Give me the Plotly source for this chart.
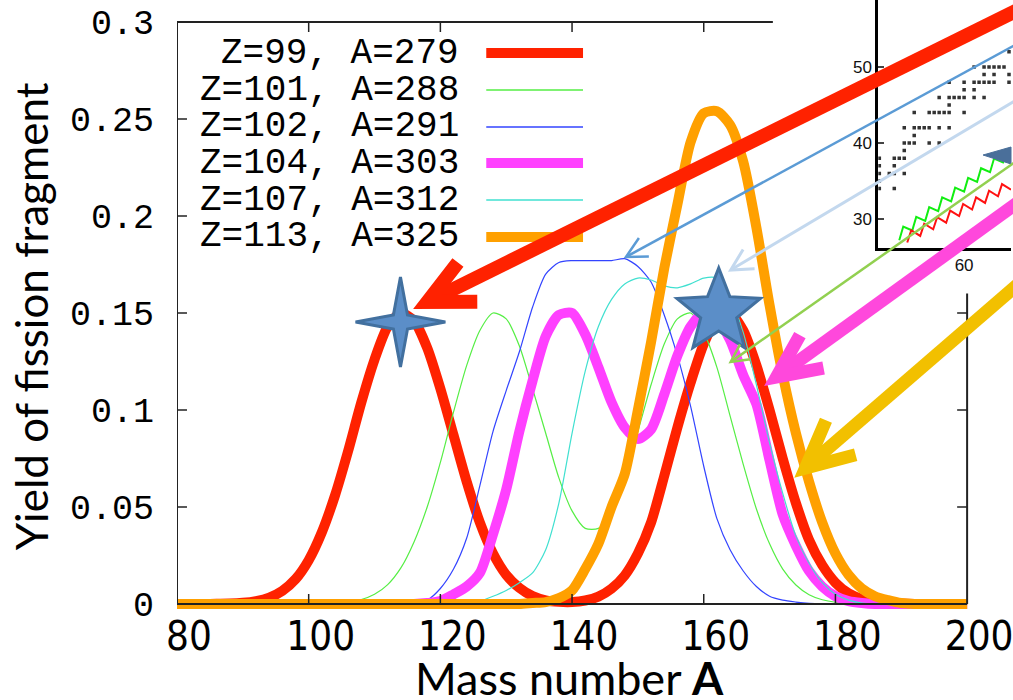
import math
import plotly.graph_objects as go

# ---------------- data ----------------
mass = list(range(80, 201, 2))  # mass number A of the fragment

series_names = ["Z=99, A=279", "Z=101, A=288", "Z=102, A=291",
                "Z=104, A=303", "Z=107, A=312", "Z=113, A=325"]

yield_z99 = [0, 0, 0, 0.0001, 0.0002, 0.0006, 0.0015, 0.0033, 0.0068, 0.0128,
             0.0226, 0.037, 0.056, 0.079, 0.104, 0.126, 0.143, 0.150, 0.146, 0.132,
             0.111, 0.087, 0.063, 0.042, 0.026, 0.015, 0.0083, 0.0041, 0.0019, 0.0011,
             0.001, 0.0018, 0.0038, 0.0079, 0.0147, 0.026, 0.042, 0.066, 0.091, 0.114,
             0.134, 0.147, 0.150, 0.141, 0.123, 0.100, 0.075, 0.052, 0.033, 0.020,
             0.011, 0.0055, 0.0026, 0.0011, 0.0005, 0.0002, 0, 0, 0, 0, 0]

yield_z101 = [0, 0, 0, 0, 0, 0, 0, 0, 0, 0,
              0, 0.0002, 0.0005, 0.001, 0.0023, 0.005, 0.010, 0.0186, 0.032, 0.050,
              0.073, 0.099, 0.123, 0.141, 0.150, 0.147, 0.133, 0.111, 0.088, 0.065,
              0.048, 0.039, 0.039, 0.048, 0.066, 0.089, 0.113, 0.134, 0.147, 0.150,
              0.140, 0.122, 0.097, 0.072, 0.049, 0.031, 0.018, 0.0098, 0.0048, 0.0022,
              0.0009, 0.0004, 0, 0, 0, 0, 0, 0, 0, 0, 0]

yield_z102 = [0, 0, 0, 0, 0, 0, 0, 0, 0, 0,
              0, 0, 0, 0, 0, 0, 0, 0, 0.0005, 0.002,
              0.008, 0.018, 0.034, 0.061, 0.089, 0.110, 0.130, 0.153, 0.170, 0.176,
              0.177, 0.177, 0.177, 0.177, 0.178, 0.174, 0.166, 0.149, 0.128, 0.102,
              0.071, 0.044, 0.028, 0.017, 0.009, 0.004, 0.002, 0.001, 0.0003, 0,
              0, 0, 0, 0, 0, 0, 0, 0, 0, 0, 0]

yield_z104 = [0, 0, 0, 0, 0, 0, 0, 0, 0, 0,
              0, 0, 0, 0, 0, 0, 0, 0, 0, 0.0005,
              0.0015, 0.005, 0.009, 0.016, 0.036, 0.059, 0.089, 0.115, 0.138, 0.149,
              0.150, 0.139, 0.122, 0.104, 0.091, 0.085, 0.090, 0.108, 0.128, 0.143,
              0.150, 0.147, 0.136, 0.118, 0.103, 0.074, 0.046, 0.030, 0.017, 0.009,
              0.004, 0.0015, 0.0005, 0, 0, 0, 0, 0, 0, 0, 0]

yield_z107 = [0, 0, 0, 0, 0, 0, 0, 0, 0, 0,
              0, 0, 0, 0, 0, 0, 0, 0, 0, 0,
              0, 0, 0.0005, 0.0015, 0.004, 0.007, 0.011, 0.016, 0.028, 0.052,
              0.088, 0.120, 0.143, 0.157, 0.165, 0.168, 0.167, 0.164, 0.163, 0.165,
              0.168, 0.168, 0.158, 0.140, 0.113, 0.083, 0.057, 0.035, 0.021, 0.011,
              0.005, 0.002, 0.0005, 0, 0, 0, 0, 0, 0, 0, 0]

yield_z113 = [0, 0, 0, 0, 0, 0, 0, 0, 0, 0,
              0, 0, 0, 0, 0, 0, 0, 0, 0, 0,
              0, 0, 0, 0, 0, 0, 0, 0.0005, 0.001, 0.003,
              0.007, 0.018, 0.031, 0.050, 0.067, 0.100, 0.135, 0.173, 0.206, 0.238,
              0.253, 0.254, 0.247, 0.228, 0.194, 0.154, 0.118, 0.088, 0.063, 0.042,
              0.026, 0.015, 0.008, 0.004, 0.002, 0.0005, 0, 0, 0, 0, 0]

series_values = [yield_z99, yield_z101, yield_z102, yield_z104, yield_z107, yield_z113]

x_ticks = [80, 100, 120, 140, 160, 180, 200]
y_ticks = [0, 0.05, 0.1, 0.15, 0.2, 0.25, 0.3]
y_tick_text = ["0", "0.05", "0.1", "0.15", "0.2", "0.25", "0.3"]

# inset: nuclide chart (neutron number N, proton number Z)
inset_n = [69, 62, 64, 65, 66, 67, 68, 64, 66, 69, 57, 60, 62, 63, 64, 65, 66, 69,
           60, 62, 55, 57, 58, 59, 60, 62, 64, 57, 50, 53, 54, 55, 56, 57, 60,
           48, 50, 51, 52, 53, 55, 57, 50, 48, 49, 50, 53, 55, 48, 43, 46, 47, 48,
           43, 46, 43, 45, 46, 48, 43, 43, 46]
inset_z = [52, 50, 50, 50, 50, 50, 50, 49, 49, 49, 48, 48, 48, 48, 48, 48, 48, 48,
           47, 47, 46, 46, 46, 46, 46, 46, 46, 45, 44, 44, 44, 44, 44, 44, 44,
           42, 42, 42, 42, 42, 42, 42, 41, 40, 40, 40, 40, 40, 39, 38, 38, 38, 38,
           37, 37, 36, 36, 36, 36, 35, 34, 34]
path_green_n = [47.0, 47.8, 49.6, 50.4, 52.2, 53.0, 54.8, 55.6, 57.4, 58.2, 60.0,
                60.8, 62.6, 63.4, 65.2, 66.0, 67.8, 68.6]
path_green_z = [27.2, 29.0, 28.48, 30.28, 29.76, 31.56, 31.04, 32.84, 32.32, 34.12,
                33.6, 35.4, 34.88, 36.68, 36.16, 37.96, 37.44, 39.24]
path_red_n = [48.6, 49.4, 51.2, 52.0, 53.8, 54.6, 56.4, 57.2, 59.0, 59.8, 61.6,
              62.4, 64.2, 65.0, 66.8, 67.6, 69.4]
path_red_z = [26.9, 28.5, 27.77, 29.37, 28.64, 30.24, 29.51, 31.11, 30.38, 31.98,
              31.25, 32.85, 32.12, 33.72, 32.99, 34.59, 33.86]

# ---------------- styling ----------------
colors = ["#ff2200", "#55ee44", "#3344ff", "#ff40ff", "#40e0d0", "#ffa000"]
widths = [10, 1.2, 1.2, 10, 1.2, 10]

W, H = 1013, 700
L, B = 177, 91
PW, PH = W - L, H - B          # plot area 836 x 609 (top margin 0, right 0)
X_PER_A = 6.6                  # pixels per mass unit
Y_PER_UNIT = 1940.0            # pixels per yield unit
Y0_PIX = 604                   # pixel row of zero yield


def pxx(x):
    return (x - L) / PW


def pxy(y):
    return (PH - y) / PH


x_range = [80, 80 + PW / X_PER_A]
y_range = [-(PH - Y0_PIX) / Y_PER_UNIT, Y0_PIX / Y_PER_UNIT]

fig = go.Figure()

for name, vals, c, w in zip(series_names, series_values, colors, widths):
    fig.add_trace(go.Scatter(
        x=mass, y=vals, mode="lines", name=name,
        line=dict(color=c, width=w, shape="spline", smoothing=0.7),
        showlegend=False, hoverinfo="skip"))

# inset traces
fig.add_trace(go.Scatter(x=inset_n, y=inset_z, xaxis="x2", yaxis="y2", mode="markers",
                         marker=dict(symbol="square", size=3.5, color="#333333"),
                         showlegend=False, hoverinfo="skip"))
fig.add_trace(go.Scatter(x=path_green_n, y=path_green_z, xaxis="x2", yaxis="y2",
                         mode="lines", line=dict(color="#11ee11", width=2),
                         showlegend=False, hoverinfo="skip"))
fig.add_trace(go.Scatter(x=path_red_n, y=path_red_z, xaxis="x2", yaxis="y2",
                         mode="lines", line=dict(color="#ff1111", width=2),
                         showlegend=False, hoverinfo="skip"))

shapes = []
frame = dict(color="#222222", width=2)
# frame of the main plot (top and right partly hidden by the inset box)
shapes.append(dict(type="line", xref="x", yref="y", x0=80, x1=80, y0=0, y1=0.3, line=frame))
shapes.append(dict(type="line", xref="x", yref="y", x0=80, x1=200, y0=0, y1=0, line=frame))
shapes.append(dict(type="line", xref="x", yref="y", x0=80, x1=170.5, y0=0.3, y1=0.3, line=frame))
shapes.append(dict(type="line", xref="x", yref="y", x0=200, x1=200, y0=0, y1=0.160, line=frame))
tick_line = dict(color="#222222", width=1.5)
tx = 10 / X_PER_A
ty = 10 / Y_PER_UNIT
for v in x_ticks[1:-1]:
    shapes.append(dict(type="line", xref="x", yref="y", x0=v, x1=v, y0=0, y1=ty, line=tick_line))
    if v <= 160:
        shapes.append(dict(type="line", xref="x", yref="y", x0=v, x1=v, y0=0.3, y1=0.3 - ty, line=tick_line))
for v in y_ticks[1:-1]:
    shapes.append(dict(type="line", xref="x", yref="y", x0=80, x1=80 + tx, y0=v, y1=v, line=tick_line))
    if v <= 0.15:
        shapes.append(dict(type="line", xref="x", yref="y", x0=200, x1=200 - tx, y0=v, y1=v, line=tick_line))

# legend samples (text right-aligned, line sample to the right)
annotations = []
row_y = [53, 90, 127, 163, 200, 237]
for name, c, w, ry in zip(series_names, colors, widths, row_y):
    annotations.append(dict(xref="paper", yref="paper", x=pxx(462), y=pxy(ry),
                            text=name, showarrow=False, xanchor="right", yanchor="middle",
                            font=dict(family="Liberation Mono, monospace", size=36, color="#000")))
    shapes.append(dict(type="line", xref="paper", yref="paper", x0=pxx(487), x1=pxx(584),
                       y0=pxy(ry), y1=pxy(ry), line=dict(color=c, width=w if w > 2 else 1.3)))


def poly_path(pts):
    s = "M " + " L ".join(f"{pxx(a):.5f},{pxy(b):.5f}" for a, b in pts)
    return s + " Z"


def star(cx, cy, n, r_out, r_in):
    pts = []
    for k in range(2 * n):
        ang = math.pi / 2 + k * math.pi / n
        r = r_out if k % 2 == 0 else r_in
        pts.append((cx + r * math.cos(ang), cy - r * math.sin(ang)))
    return poly_path(pts)


star_fill, star_edge = "#5b8ec8", "#42709f"
shapes.append(dict(type="path", xref="paper", yref="paper", path=star(401, 322, 4, 45, 10),
                   fillcolor=star_fill, line=dict(color=star_edge, width=3)))
shapes.append(dict(type="path", xref="paper", yref="paper", path=star(720, 312, 5, 44, 19),
                   fillcolor=star_fill, line=dict(color=star_edge, width=3)))
# arrowhead tip near the right edge of the inset
shapes.append(dict(type="path", xref="paper", yref="paper",
                   path=poly_path([(985, 155), (1013, 147), (1013, 164)]),
                   fillcolor="#4a6f9a", line=dict(color="#4a6f9a", width=1)))


def arrow(tip, tail, color, width, head, spread=26):
    tx_, ty_ = tip
    sx, sy = tail
    d = math.hypot(sx - tx_, sy - ty_)
    ux, uy = (sx - tx_) / d, (sy - ty_) / d
    back = width * 0.45
    out = [dict(type="line", xref="paper", yref="paper",
                x0=pxx(tx_ + ux * back), y0=pxy(ty_ + uy * back), x1=pxx(sx), y1=pxy(sy),
                line=dict(color=color, width=width))]
    arms = []
    for sgn in (1, -1):
        a = math.radians(spread) * sgn
        vx = ux * math.cos(a) - uy * math.sin(a)
        vy = ux * math.sin(a) + uy * math.cos(a)
        arms.append((tx_ + vx * head, ty_ + vy * head))
    p = (f"M {pxx(arms[0][0]):.5f},{pxy(arms[0][1]):.5f} L {pxx(tx_):.5f},{pxy(ty_):.5f} "
         f"L {pxx(arms[1][0]):.5f},{pxy(arms[1][1]):.5f}")
    out.append(dict(type="path", xref="paper", yref="paper", path=p,
                    line=dict(color=color, width=width)))
    return out


shapes += arrow((732, 270), (1030, 93), "#c3d8ee", 3, 24, 28)
shapes += arrow((627, 257), (1030, 38), "#5b9bd5", 2.5, 23, 27)
shapes += arrow((732, 362), (1030, 153), "#92d050", 2.5, 20, 27)
shapes += arrow((428, 302), (1040, 0), "#ff2200", 14, 50, 26)
shapes += arrow((778, 377), (1040, 188), "#ff48dc", 13, 48, 25)
shapes += arrow((807, 468), (1040, 267), "#f2c000", 13, 52, 26)

annotations.append(dict(xref="paper", yref="paper", x=pxx(570), y=pxy(678),
                        text="Mass number <b>A</b>", showarrow=False,
                        xanchor="center", yanchor="middle",
                        font=dict(family="Lato, sans-serif", size=45, color="#000")))
annotations.append(dict(xref="paper", yref="paper", x=pxx(31), y=pxy(316),
                        text="Yield of fission fragment", showarrow=False, textangle=-90,
                        xanchor="center", yanchor="middle",
                        font=dict(family="Lato, sans-serif", size=44, color="#000")))

fig.update_layout(
    width=W, height=H,
    margin=dict(l=L, r=0, t=0, b=B, pad=0),
    paper_bgcolor="white", plot_bgcolor="white",
    showlegend=False,
    xaxis=dict(range=x_range, tickvals=x_ticks, ticks="", showline=False, showgrid=False,
               zeroline=False, ticklabelshift=12, ticklabelstandoff=0,
               ticklabeloverflow="allow",
               tickfont=dict(family="Liberation Sans Narrow, DejaVu Sans Condensed, sans-serif",
                             size=40, color="#000")),
    yaxis=dict(range=y_range, tickvals=y_ticks, ticktext=y_tick_text, ticks="",
               showline=False, showgrid=False, zeroline=False, ticklabelstandoff=22,
               tickfont=dict(family="Liberation Mono, monospace", size=35, color="#000")),
    xaxis2=dict(domain=[pxx(880), 1], anchor="y2", range=[42.8, 69.4], tickvals=[60],
                ticks="inside", ticklen=6, tickwidth=1.5, showline=True, linewidth=3,
                linecolor="#000", showgrid=False, zeroline=False,
                tickfont=dict(family="Liberation Sans, Arial, sans-serif", size=17, color="#111")),
    yaxis2=dict(domain=[pxy(248), 1], anchor="x2", range=[26.18, 58.82],
                tickvals=[30, 40, 50], ticks="inside", ticklen=6, tickwidth=1.5,
                showline=True, linewidth=3, linecolor="#000", showgrid=False, zeroline=False,
                tickfont=dict(family="Liberation Sans, Arial, sans-serif", size=17, color="#111")),
    shapes=shapes,
    annotations=annotations,
)

fig.write_html("out.html")
